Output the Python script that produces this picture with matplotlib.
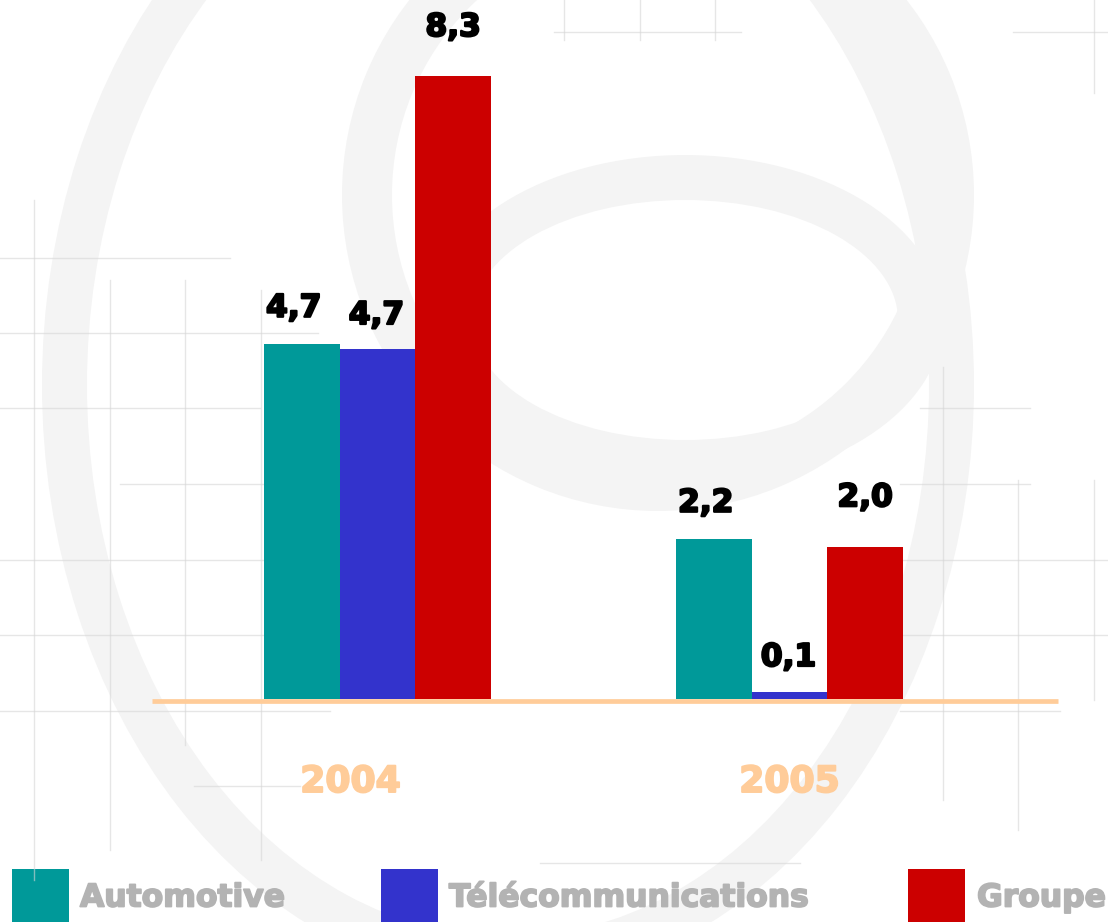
import matplotlib
matplotlib.use("Agg")
import matplotlib.pyplot as plt
import matplotlib.patheffects as pe
from matplotlib.patches import Annulus, Rectangle

# donnees
years = ["2004", "2005"]
series = ["Automotive", "Télécommunications", "Groupe"]
automotive = [4.73, 2.13]
telecom = [4.66, 0.10]
groupe = [8.30, 2.03]
labels_auto = ["4,7", "2,2"]
labels_telecom = ["4,7", "0,1"]
labels_groupe = ["8,3", "2,0"]

colors = ["#009999", "#3333CC", "#CC0000"]
peach = "#FFCC99"
grey_txt = "#B3B3B3"
wm = "#F4F4F4"

W, H = 1108, 922
fig = plt.figure(figsize=(W / 100, H / 100), dpi=100)
fig.patch.set_facecolor("white")

def heavy(c, lw=1.3):
    # epaissir le gras de DejaVu
    return [pe.withStroke(linewidth=lw, foreground=c)]

# fond : logo en filigrane + quadrillage, en pixels
bg = fig.add_axes([0, 0, 1, 1], zorder=0)
bg.set_xlim(0, W)
bg.set_ylim(H, 0)
bg.axis("off")
bg.add_patch(Annulus((508, 385), (466, 597), 45, color=wm, lw=0))
bg.add_patch(Annulus((658, 195), 316, 50, color=wm, lw=0))
bg.add_patch(Annulus((685, 320), (258, 165), 45, color=wm, lw=0))

grid_v = [(34, 200, 880), (110, 280, 850), (185, 280, 745), (261, 290, 860),
          (943, 367, 800), (1018, 480, 830), (1094, 0, 93), (1094, 480, 700),
          (564, 0, 40), (640, 0, 40), (715, 0, 40)]
grid_h = [(258, 0, 230), (333, 0, 318), (408, 0, 260), (484, 120, 264),
          (560, 0, 264), (635, 0, 264), (711, 0, 330), (786, 194, 300),
          (32, 1013, 1108), (32, 554, 741), (408, 920, 1030), (484, 900, 1030),
          (560, 900, 1108), (635, 900, 1108), (711, 900, 1060), (863, 540, 800)]
for x, y0, y1 in grid_v:
    bg.plot([x, x], [y0, y1], color="#D6D6D6", lw=1.0, alpha=0.6)
for y, x0, x1 in grid_h:
    bg.plot([x0, x1], [y, y], color="#D6D6D6", lw=1.0, alpha=0.6)

# legende
leg_box = [12, 381, 908]
leg_txt = [80, 449, 977]
for i, name in enumerate(series):
    bg.add_patch(Rectangle((leg_box[i], 869), 57, 60, color=colors[i], lw=0))
    bg.text(leg_txt[i], 898, name, color=grey_txt, fontsize=22.6, fontweight="bold",
            va="center", ha="left", path_effects=heavy(grey_txt))

# graphique
ax = fig.add_axes([0, 0, 1, 1], zorder=1)
ax.patch.set_alpha(0)
gap = 412.0   # px entre groupes
ppu = 75.0    # px par unite
ax.set_xlim(-377.5 / gap, (W - 377.5) / gap)
ax.set_ylim(-(H - 699) / ppu, 699 / ppu)
ax.axis("off")

w = 75.7 / gap
x = [0, 1]
vals = [automotive, telecom, groupe]
labs = [labels_auto, labels_telecom, labels_groupe]
dy = [36, 34, 49]
dx = [-8, -1, 0]
for i in range(3):
    xs = [g + (i - 1) * w for g in x]
    ax.bar(xs, vals[i], width=w, color=colors[i], zorder=2)
    for xi, v, t in zip(xs, vals[i], labs[i]):
        ax.annotate(t, (xi, v), xytext=(dx[i], dy[i]), textcoords="offset pixels",
                    ha="center", va="center", fontsize=22.5, fontweight="bold",
                    color="black", path_effects=heavy("black", 1.6))

ax.plot([(152 - 377.5) / gap, (1058 - 377.5) / gap], [-2 / ppu, -2 / ppu],
        color=peach, lw=3.4, solid_capstyle="butt", zorder=3)

year_dx = [-27, 0]
for g, yr, d in zip(x, years, year_dx):
    ax.annotate(yr, (g, 0), xytext=(d, -83), textcoords="offset pixels",
                ha="center", va="center", fontsize=26, fontweight="bold", color=peach,
                path_effects=heavy(peach, 1.4))

fig.savefig("out.png", dpi=100)
